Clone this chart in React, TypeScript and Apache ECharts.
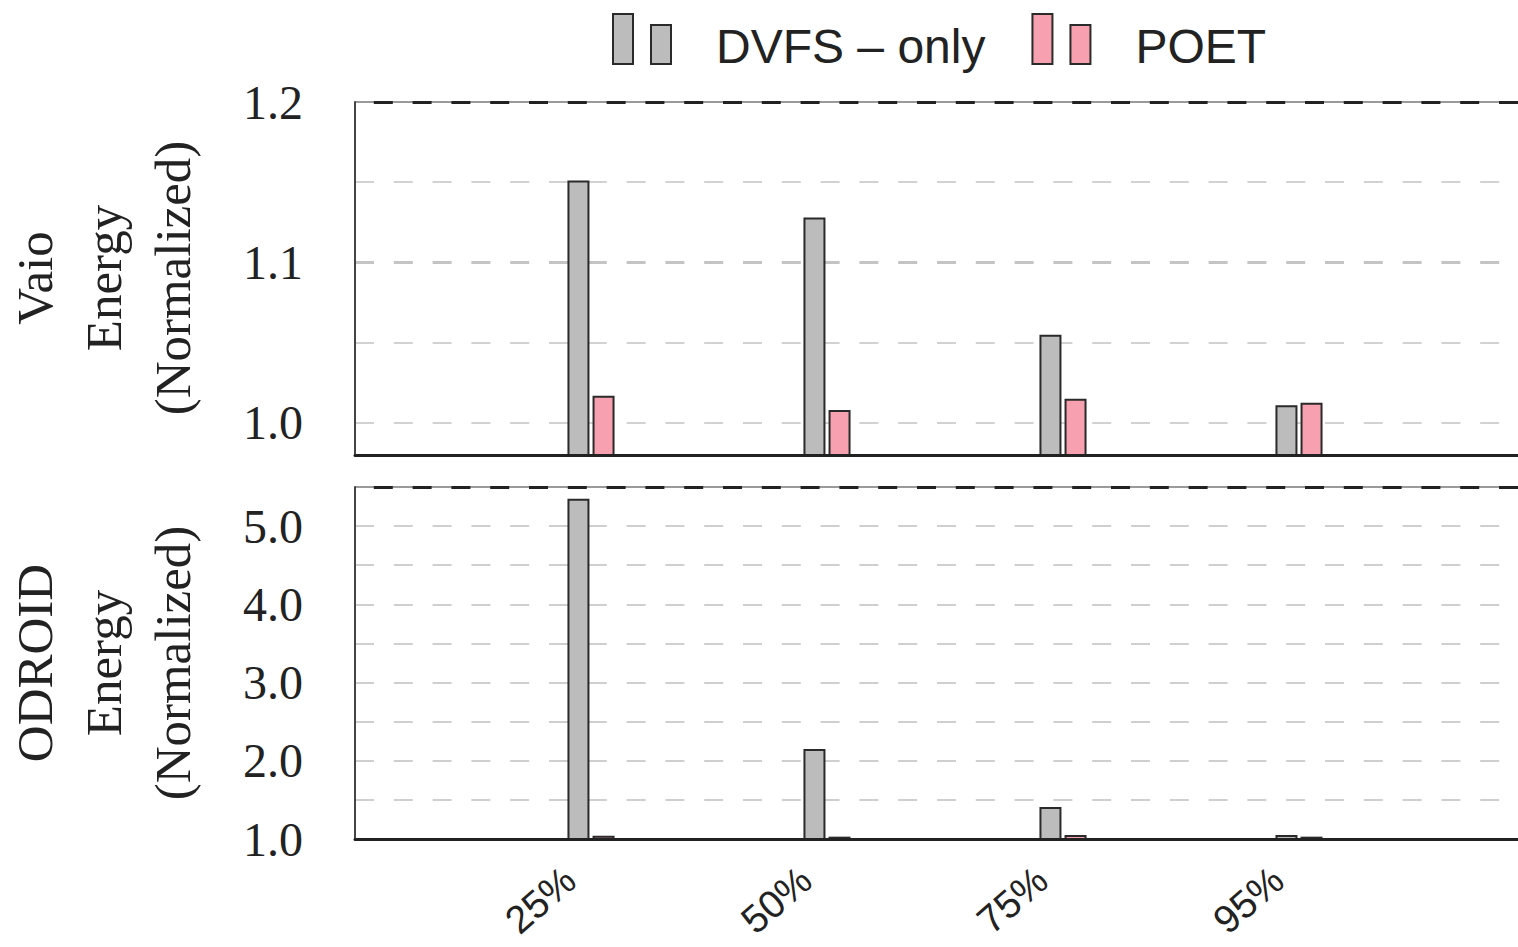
import React, { useEffect, useRef } from "react";
import * as echarts from "echarts";

// ---- data ----
const categories = ["", "25%", "50%", "75%", "95%", ""];
const seriesNames = ["DVFS – only", "POET"];
const vaioDvfs = [null, 1.151, 1.128, 1.055, 1.011, null];
const vaioPoet = [null, 1.017, 1.008, 1.015, 1.0125, null];
const odroidDvfs = [null, 5.35, 2.15, 1.41, 1.05, null];
const odroidPoet = [null, 1.04, 1.03, 1.05, 1.03, null];
const vaioTickLabels = ["1.0", "1.1", "1.2"];
const odroidTickLabels = ["1.0", "2.0", "3.0", "4.0", "5.0"];
const vaioGridValues = [1.0, 1.05, 1.1, 1.15];
const odroidGridValues = [1.5, 2.0, 2.5, 3.0, 3.5, 4.0, 4.5, 5.0];
const vaioRange = [0.98, 1.2];
const odroidRange = [1.0, 5.5];
const vaioTitle = "Vaio\nEnergy\n(Normalized)";
const odroidTitle = "ODROID\nEnergy\n(Normalized)";

const GRAY = "#bcbcbc";
const PINK = "#f7a0b0";
const BORDER = "#2a2a2a";
const SERIF = "'Liberation Serif', 'Times New Roman', serif";
const SANS = "'Liberation Sans', Arial, sans-serif";

const dashGrid = (v: number, width = 2, color = "#cfcfcf") => ({
  yAxis: v,
  lineStyle: { color, width, type: [19, 19.8], dashOffset: 0 },
});

function topBorder(v: number) {
  return [
    { yAxis: v, lineStyle: { color: "#9a9a9a", width: 2, type: "solid" } },
    { yAxis: v, lineStyle: { color: "#222", width: 3, type: [19, 19.8], dashOffset: 19.8 } },
  ];
}

function makeLabelFormatter(labels: string[]) {
  return (v: number) => {
    const s = v.toFixed(1);
    return labels.includes(s) && Math.abs(v - parseFloat(s)) < 1e-6 ? s : "";
  };
}

export default function App() {
  const ref = useRef<HTMLDivElement>(null);

  useEffect(() => {
    document.body.style.margin = "0";
    if (!ref.current) return;
    const chart = echarts.init(ref.current, undefined, { renderer: "svg" });

    const legendIcon = "path://M0,0h20v50h-20z M38,11h20v39h-20z M98,64";

    const barStyle = (color: string) => ({
      color,
      borderColor: BORDER,
      borderWidth: 2,
    });

    const markLineBase = {
      z: 1,
      silent: true,
      symbol: ["none", "none"],
      label: { show: false },
      emphasis: { disabled: true },
      animation: false,
    };

    const option: any = {
      animation: false,
      backgroundColor: "#fff",
      legend: {
        left: 612,
        top: 13,
        padding: 0,
        itemGap: 46,
        itemWidth: 98,
        itemHeight: 64,
        icon: legendIcon,
        data: seriesNames,
        textStyle: { fontFamily: SANS, fontSize: 48, color: "#222" },
        selectedMode: false,
      },
      grid: [
        { left: 355, top: 102, width: 1180, height: 353, outerBoundsMode: "none", containLabel: false },
        { left: 355, top: 487, width: 1180, height: 352, outerBoundsMode: "none", containLabel: false },
      ],
      xAxis: [
        {
          type: "category",
          gridIndex: 0,
          data: categories,
          boundaryGap: false,
          z: 10,
          axisLine: { show: true, onZero: false, lineStyle: { color: "#222", width: 3 } },
          axisTick: { show: false },
          axisLabel: { show: false },
          splitLine: { show: false },
        },
        {
          type: "category",
          gridIndex: 1,
          data: categories,
          boundaryGap: false,
          z: 10,
          axisLine: { show: true, onZero: false, lineStyle: { color: "#222", width: 3 } },
          axisTick: { show: false },
          axisLabel: {
            show: true,
            interval: 0,
            rotate: 41,
            margin: 17,
            padding: [0, 28, 0, 0],
            fontFamily: SANS,
            fontSize: 39,
            color: "#222",
          },
          splitLine: { show: false },
        },
      ],
      yAxis: [
        {
          type: "value",
          gridIndex: 0,
          min: vaioRange[0],
          max: vaioRange[1],
          interval: 0.01,
          z: 10,
          axisLine: { show: true, lineStyle: { color: "#444", width: 2 } },
          axisTick: { show: false },
          splitLine: { show: false },
          axisLabel: {
            margin: 52,
            fontFamily: SERIF,
            fontSize: 48,
            color: "#222",
            formatter: makeLabelFormatter(vaioTickLabels),
          },
        },
        {
          type: "value",
          gridIndex: 1,
          min: odroidRange[0],
          max: odroidRange[1],
          interval: 0.5,
          z: 10,
          axisLine: { show: true, lineStyle: { color: "#444", width: 2 } },
          axisTick: { show: false },
          splitLine: { show: false },
          axisLabel: {
            margin: 52,
            fontFamily: SERIF,
            fontSize: 48,
            color: "#222",
            formatter: makeLabelFormatter(odroidTickLabels),
          },
        },
      ],
      series: [
        {
          name: seriesNames[0],
          type: "bar",
          xAxisIndex: 0,
          yAxisIndex: 0,
          data: vaioDvfs,
          barWidth: 22,
          barGap: "14%",
          itemStyle: barStyle(GRAY),
          markLine: {
            ...markLineBase,
            data: [
              ...vaioGridValues.map((v) =>
                Math.abs(v - 1.1) < 1e-9 ? dashGrid(v, 3, "#c4c4c4") : dashGrid(v, 2, "#d2d2d2")
              ),
              ...topBorder(vaioRange[1]),
            ],
          },
        },
        {
          name: seriesNames[1],
          type: "bar",
          xAxisIndex: 0,
          yAxisIndex: 0,
          data: vaioPoet,
          barWidth: 22,
          barGap: "14%",
          itemStyle: barStyle(PINK),
        },
        {
          name: seriesNames[0],
          type: "bar",
          xAxisIndex: 1,
          yAxisIndex: 1,
          data: odroidDvfs,
          barWidth: 22,
          barGap: "14%",
          itemStyle: barStyle(GRAY),
          markLine: {
            ...markLineBase,
            data: [
              ...odroidGridValues.map((v) => dashGrid(v, 2, "#cfcfcf")),
              ...topBorder(odroidRange[1]),
            ],
          },
        },
        {
          name: seriesNames[1],
          type: "bar",
          xAxisIndex: 1,
          yAxisIndex: 1,
          data: odroidPoet,
          barWidth: 22,
          barGap: "14%",
          itemStyle: barStyle(PINK),
        },
      ],
      graphic: [
        {
          type: "text",
          x: 104,
          y: 278,
          rotation: Math.PI / 2,
          style: {
            text: vaioTitle,
            fontFamily: SERIF,
            fontSize: 51,
            lineHeight: 69,
            fill: "#222",
            align: "center",
            verticalAlign: "middle",
          },
        },
        {
          type: "text",
          x: 104,
          y: 663,
          rotation: Math.PI / 2,
          style: {
            text: odroidTitle,
            fontFamily: SERIF,
            fontSize: 51,
            lineHeight: 69,
            fill: "#222",
            align: "center",
            verticalAlign: "middle",
          },
        },
      ],
    };

    chart.setOption(option);
    return () => chart.dispose();
  }, []);

  return (
    <div
      ref={ref}
      style={{ position: "fixed", left: 0, top: 0, width: 1518, height: 947, background: "#fff" }}
    />
  );
}
